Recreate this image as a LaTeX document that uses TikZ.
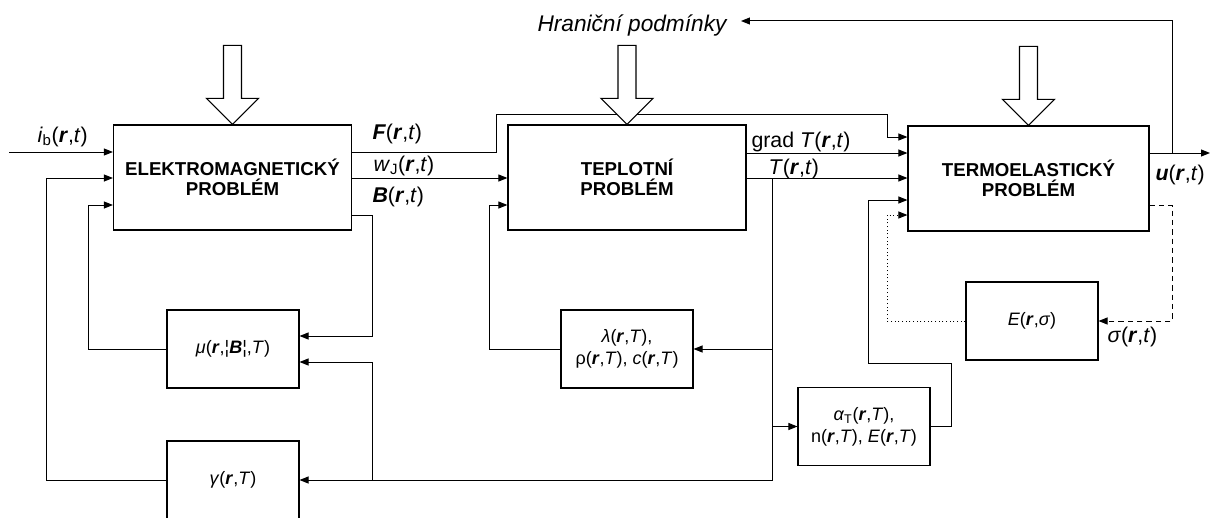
\documentclass[tikz,border=0pt]{standalone}
\usepackage{fontspec}
\setmainfont{Liberation Sans}
\usetikzlibrary{arrows.meta}

\newcommand{\bfr}{\textbf{\textit{r}}}

\begin{document}
\begin{tikzpicture}[x=0.75pt, y=-0.75pt,
    bigbox/.style={draw, line width=0.9pt, minimum width=178.5pt, minimum height=78.75pt, inner sep=0pt, align=center, font=\fontsize{14}{15}\selectfont\bfseries},
    smallbox/.style={draw, line width=0.8pt, minimum width=99pt, minimum height=58.5pt, inner sep=0pt, align=center, font=\fontsize{13.5}{16.5}\selectfont},
    lbl/.style={anchor=base west, inner sep=0pt, font=\fontsize{16}{18}\selectfont},
    arr/.style={-{Triangle[length=6.75pt,width=5.25pt]}, line width=0.75pt},
    hollow/.style={draw, fill=white, line width=0.8pt},
    line width=0.75pt
]
    \clip (0,0) rectangle (1219,517);

    % main blocks
    \node[bigbox] (em) at (232.5,177.5) {ELEKTROMAGNETICKÝ\\PROBLÉM};
    \node[bigbox] (tp) at (627,177.5) {TEPLOTNÍ\\PROBLÉM};
    \node[bigbox, minimum width=180.75pt] (te) at (1028.5,178.5) {TERMOELASTICKÝ\\PROBLÉM};

    % material parameters
    \node[smallbox] (mu) at (233,349) {\textit{μ}(\bfr,¦\textbf{\textit{B}}¦,\textit{T})};
    \node[smallbox] (gam) at (233,480) {\textit{γ}(\bfr,\textit{T})};
    \node[smallbox] (lam) at (627,349) {\textit{λ}(\bfr,\textit{T}),\\ρ(\bfr,\textit{T}), \textit{c}(\bfr,\textit{T})};
    \node[smallbox] (al) at (864,426.5) {\textit{α}\textsubscript{T}(\bfr,\textit{T}),\\n(\bfr,\textit{T}), \textit{E}(\bfr,\textit{T})};
    \node[smallbox] (el) at (1032,321) {\textit{E}(\bfr,\textit{σ})};

    % labels
    \node[lbl] (lib) at (37,142) {\textit{i}\textsubscript{b}(\bfr,\textit{t})};
    \node[lbl] (lf) at (372,139) {\textbf{\textit{F}}(\bfr,\textit{t})};
    \node[lbl] (lw) at (373,171) {\textit{w}\textsubscript{J}(\bfr,\textit{t})};
    \node[lbl] (lb) at (372,202) {\textbf{\textit{B}}(\bfr,\textit{t})};
    \node[lbl] (lg) at (751,147) {grad \textit{T}(\bfr,\textit{t})};
    \node[lbl] (lt) at (768,174) {\textit{T}(\bfr,\textit{t})};
    \node[lbl] (lu) at (1155,180) {\textbf{\textit{u}}(\bfr,\textit{t})};
    \node[lbl] (ls) at (1107,342) {\textit{σ}(\bfr,\textit{t})};
    \node[lbl, font=\fontsize{17}{19}\selectfont\itshape] (hp) at (537,32) {Hraniční podmínky};

    \coordinate (ib) at (9,152);
    \coordinate (uo) at (1210,153);
    \coordinate (ub) at (1172,153);
    \coordinate (tb) at (772,178);
    \coordinate (gb) at (372,480);

    % electromagnetic problem
    \draw[arr] (ib) -- (ib -| em.west);
    \draw[arr] (gam.west) -| (46,178) -- (em.west |- 0,178);
    \draw[arr] (mu.west) -| (88,205) -- (em.west |- 0,205);
    \draw[arr] (em.east |- 0,152) -| (496,114) -| (887,137) -- (te.west |- 0,137);
    \draw[arr] (em.east |- 0,178) -- (tp.west |- 0,178);
    \draw[arr] (em.east |- 0,215) -| (372,336) -- (mu.east |- 0,336);

    % thermal problem
    \draw[arr] (lam.west) -| (489,205) -- (tp.west |- 0,205);
    \draw[arr] (tp.east |- 0,153) -- (te.west |- 0,153);
    \draw[arr] (tp.east |- 0,178) -- (te.west |- 0,178);
    \draw[arr] (tb) |- (gam.east);
    \draw[arr] (tb |- lam.east) -- (lam.east);
    \draw[arr] (tb |- al.west) -- (al.west);
    \draw[arr] (gb) |- (mu.east |- 0,362);

    % thermoelastic problem
    \draw[arr] (al.east) -| (951,363) -| (868,200) -- (te.west |- 0,200);
    \draw[arr, dotted] (el.west) -| (887,215) -- (te.west |- 0,215);
    \draw[arr, dash pattern=on 4pt off 3pt] (te.east |- 0,205) -| (1172,321) -- (el.east);
    \draw[arr] (te.east |- 0,153) -- (uo);
    \draw[arr] (ub) |- ([xshift=10.5pt]hp.east |- 0,21);

    \foreach \b in {em,tp,te}
        \draw[hollow] (\b.north) -- ++(-26,-26) -- ++(17,0) -- ++(0,-53) -- ++(18,0) -- ++(0,53) -- ++(17,0) -- cycle;
\end{tikzpicture}
\end{document}
